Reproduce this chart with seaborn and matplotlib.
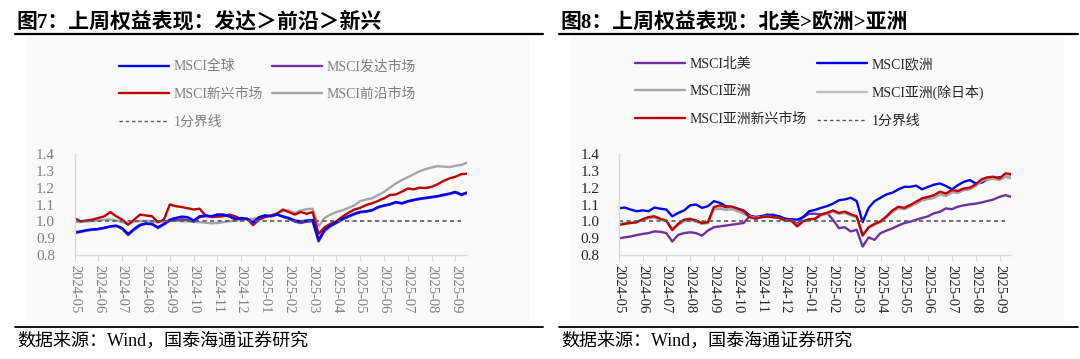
import numpy as np
import pandas as pd
import seaborn as sns
import matplotlib.pyplot as plt
from matplotlib.lines import Line2D
from matplotlib.patches import Rectangle

sns.set_style('white')
plt.rcParams['font.family'] = ['Liberation Serif', 'Noto Sans CJK SC']

# time axis in months since the first tick (0.25 month steps)
months = np.arange(67) * 0.25
month_labels = ['2024-05', '2024-06', '2024-07', '2024-08', '2024-09', '2024-10',
                '2024-11', '2024-12', '2025-01', '2025-02', '2025-03', '2025-04',
                '2025-05', '2025-06', '2025-07', '2025-08', '2025-09']

# ---- figure 7 data ----
msci_world = [0.935, 0.940, 0.948, 0.952, 0.955, 0.962, 0.970, 0.975,
              0.960, 0.925, 0.955, 0.980, 0.988, 0.985, 0.965, 0.985,
              1.010, 1.020, 1.028, 1.025, 1.005, 1.030, 1.035, 1.030,
              1.040, 1.040, 1.030, 1.015, 1.020, 1.015, 0.995, 1.025,
              1.035, 1.030, 1.040, 1.030, 1.020, 1.005, 1.000, 1.005,
              1.008, 0.890, 0.950, 0.975, 0.995, 1.015, 1.030, 1.045,
              1.057, 1.060, 1.067, 1.085, 1.095, 1.102, 1.115, 1.108,
              1.120, 1.128, 1.135, 1.140, 1.145, 1.150, 1.158, 1.165,
              1.175, 1.160, 1.172]
msci_developed = [0.930, 0.937, 0.945, 0.950, 0.953, 0.960, 0.968, 0.972,
                  0.955, 0.918, 0.950, 0.975, 0.985, 0.982, 0.960, 0.980,
                  1.003, 1.008, 1.012, 1.010, 0.998, 1.025, 1.030, 1.028,
                  1.040, 1.038, 1.028, 1.012, 1.018, 1.012, 0.990, 1.022,
                  1.035, 1.030, 1.040, 1.028, 1.015, 0.998, 0.990, 0.998,
                  1.000, 0.880, 0.942, 0.970, 0.990, 1.010, 1.027, 1.042,
                  1.053, 1.057, 1.064, 1.082, 1.092, 1.100, 1.112, 1.105,
                  1.117, 1.125, 1.132, 1.137, 1.142, 1.147, 1.155, 1.162,
                  1.172, 1.155, 1.168]
msci_emerging = [1.018, 1.000, 1.005, 1.010, 1.020, 1.030, 1.055, 1.030,
                 1.010, 0.980, 1.010, 1.040, 1.035, 1.030, 0.995, 1.010,
                 1.100, 1.090, 1.085, 1.078, 1.070, 1.075, 1.035, 1.025,
                 1.028, 1.030, 1.040, 1.030, 1.012, 1.015, 0.978, 1.010,
                 1.025, 1.035, 1.045, 1.070, 1.055, 1.040, 1.055, 1.045,
                 1.055, 0.925, 0.965, 0.985, 1.000, 1.028, 1.050, 1.070,
                 1.080, 1.097, 1.107, 1.121, 1.137, 1.156, 1.160, 1.176,
                 1.195, 1.190, 1.200, 1.198, 1.205, 1.220, 1.240, 1.255,
                 1.265, 1.280, 1.283]
msci_frontier = [0.994, 0.996, 1.000, 1.002, 1.005, 1.010, 1.012, 1.005,
                 0.995, 0.985, 0.998, 1.002, 1.002, 0.998, 0.995, 1.000,
                 1.005, 1.005, 1.000, 1.000, 0.998, 0.995, 0.992, 0.988,
                 0.990, 0.995, 1.000, 1.005, 1.008, 1.012, 1.015, 1.022,
                 1.028, 1.035, 1.048, 1.060, 1.065, 1.050, 1.065, 1.072,
                 1.075, 0.970, 1.020, 1.040, 1.055, 1.065, 1.080, 1.095,
                 1.120, 1.130, 1.137, 1.155, 1.175, 1.200, 1.225, 1.245,
                 1.262, 1.280, 1.298, 1.310, 1.320, 1.328, 1.325, 1.322,
                 1.330, 1.335, 1.350]

# ---- figure 8 data ----
msci_na = [0.899, 0.905, 0.910, 0.918, 0.925, 0.930, 0.940, 0.938,
           0.930, 0.880, 0.920, 0.930, 0.935, 0.930, 0.915, 0.945,
           0.965, 0.970, 0.975, 0.980, 0.985, 0.990, 1.030, 1.025,
           1.030, 1.035, 1.040, 1.025, 1.015, 1.010, 0.985, 1.025,
           1.045, 1.045, 1.040, 1.050, 1.010, 0.960, 0.965, 0.940,
           0.950, 0.850, 0.905, 0.890, 0.930, 0.945, 0.958, 0.975,
           0.990, 0.998, 1.010, 1.020, 1.030, 1.048, 1.057, 1.077,
           1.072, 1.087, 1.095, 1.101, 1.105, 1.112, 1.121, 1.130,
           1.145, 1.156, 1.145]
msci_europe = [1.077, 1.082, 1.070, 1.060, 1.065, 1.060, 1.082, 1.075,
               1.070, 1.030, 1.050, 1.065, 1.095, 1.100, 1.080, 1.090,
               1.120, 1.110, 1.090, 1.085, 1.075, 1.065, 1.035, 1.025,
               1.030, 1.040, 1.035, 1.030, 1.015, 1.012, 1.010, 1.025,
               1.060, 1.068, 1.080, 1.090, 1.105, 1.125, 1.130, 1.140,
               1.120, 0.995, 1.080, 1.120, 1.140, 1.160, 1.170, 1.190,
               1.205, 1.205, 1.212, 1.190, 1.205, 1.218, 1.225, 1.210,
               1.190, 1.215, 1.235, 1.245, 1.225, 1.230, 1.250, 1.255,
               1.262, 1.265, 1.270]
msci_asia = [0.985, 0.990, 0.992, 0.995, 1.008, 1.018, 1.022, 1.010,
             1.000, 0.955, 0.980, 1.000, 1.008, 0.998, 0.985, 0.990,
             1.070, 1.075, 1.068, 1.072, 1.060, 1.045, 1.030, 1.020,
             1.025, 1.028, 1.025, 1.018, 1.005, 1.003, 0.975, 1.000,
             1.012, 1.015, 1.035, 1.045, 1.058, 1.045, 1.050, 1.035,
             1.025, 0.920, 0.960, 0.980, 0.995, 1.022, 1.055, 1.078,
             1.072, 1.088, 1.105, 1.125, 1.132, 1.140, 1.160, 1.150,
             1.172, 1.168, 1.185, 1.190, 1.210, 1.240, 1.250, 1.252,
             1.245, 1.265, 1.255]
msci_asia_ex_jp = [0.982, 0.988, 0.990, 0.993, 1.010, 1.020, 1.026, 1.012,
                   1.002, 0.950, 0.982, 1.005, 1.010, 1.000, 0.987, 0.992,
                   1.078, 1.085, 1.075, 1.080, 1.068, 1.050, 1.028, 1.018,
                   1.024, 1.027, 1.024, 1.018, 1.004, 1.004, 0.972, 1.000,
                   1.012, 1.014, 1.038, 1.048, 1.060, 1.046, 1.052, 1.038,
                   1.027, 0.918, 0.962, 0.982, 0.997, 1.025, 1.058, 1.080,
                   1.075, 1.090, 1.110, 1.130, 1.138, 1.147, 1.167, 1.157,
                   1.178, 1.172, 1.188, 1.193, 1.213, 1.243, 1.255, 1.258,
                   1.248, 1.272, 1.265]
msci_asia_em = [0.978, 0.985, 0.990, 0.995, 1.012, 1.025, 1.030, 1.015,
                1.005, 0.948, 0.985, 1.010, 1.015, 1.005, 0.990, 0.995,
                1.085, 1.095, 1.085, 1.088, 1.075, 1.060, 1.025, 1.015,
                1.025, 1.028, 1.025, 1.020, 1.005, 1.005, 0.970, 1.000,
                1.012, 1.015, 1.040, 1.050, 1.065, 1.050, 1.058, 1.042,
                1.030, 0.915, 0.965, 0.985, 1.000, 1.030, 1.065, 1.087,
                1.080, 1.097, 1.117, 1.137, 1.145, 1.156, 1.176, 1.165,
                1.186, 1.180, 1.195, 1.200, 1.220, 1.250, 1.262, 1.265,
                1.255, 1.285, 1.280]

divider = 1.0

W, H = 1080, 359
fig = plt.figure(figsize=(W / 100, H / 100), dpi=100)


def fx(px):
    return px / W


def fy(py):
    return 1 - py / H


def draw_panel(x0, x1, ax_left, title, series, order, legend_order, text_color,
               legend_xy, colspace):
    # faint background panel
    fig.patches.append(Rectangle((fx(x0 + 11), fy(322)), fx(x1 - x0 - 25), fy(37) - fy(322),
                                 transform=fig.transFigure, facecolor='#fafafa',
                                 edgecolor='none', zorder=-5))
    fig.text(fx(x0 + 2), fy(22), title, fontsize=15, fontweight='bold',
             va='center', ha='left', color='black')
    fig.add_artist(Line2D([fx(x0), fx(x1)], [fy(34), fy(34)], color='black', lw=1.6))
    fig.add_artist(Line2D([fx(x0), fx(x1)], [fy(327), fy(327)], color='black', lw=1.3))
    fig.text(fx(x0 + 2), fy(341), '数据来源：Wind，国泰海通证券研究', fontsize=13,
             va='center', ha='left', color='black')

    ax = fig.add_axes([fx(ax_left), fy(255), fx(16.5 * 23.8), fy(154) - fy(255)])
    ax.set_zorder(2)
    ax.patch.set_alpha(0)
    df = pd.DataFrame({'m': months})
    for name, vals, color in series:
        df[name] = vals
    long = df.melt(id_vars='m', var_name='series', value_name='v')
    palette = {name: color for name, vals, color in series}
    handles = {}
    for name in order:
        sns.lineplot(data=long[long['series'] == name], x='m', y='v', color=palette[name],
                     lw=1.7, ax=ax, legend=False)
        handles[name] = Line2D([], [], color=palette[name], lw=1.7)
    sns.lineplot(x=months[:-1], y=np.full(len(months) - 1, divider), color='#595959',
                 lw=1.2, linestyle=(0, (2.5, 2)), ax=ax)
    handles['1分界线'] = Line2D([], [], color='#595959', lw=1.0, linestyle=(0, (2.5, 2)))

    ax.set_xlim(0, 16.5)
    ax.set_ylim(0.8, 1.4)
    ax.set_yticks([0.8, 0.9, 1.0, 1.1, 1.2, 1.3, 1.4])
    ax.set_yticklabels(['0.8', '0.9', '1.0', '1.1', '1.2', '1.3', '1.4'])
    ax.set_xticks(np.arange(len(month_labels)))
    ax.set_xticklabels(month_labels, rotation=-90)
    ax.set_xlabel('')
    ax.set_ylabel('')
    for s in ['top', 'right']:
        ax.spines[s].set_visible(False)
    for s in ['left', 'bottom']:
        ax.spines[s].set_color('#d9d9d9')
        ax.spines[s].set_linewidth(1.0)
    ax.tick_params(axis='x', length=4, color='#d9d9d9', labelsize=10.5,
                   labelcolor=text_color, pad=3, bottom=True)
    ax.tick_params(axis='y', length=0, labelsize=11, labelcolor=text_color, pad=14)

    leg = ax.legend([handles[n] for n in legend_order], legend_order, ncol=2,
                    loc='upper left', bbox_to_anchor=(fx(legend_xy[0]), fy(legend_xy[1])),
                    bbox_transform=fig.transFigure, frameon=False, fontsize=10,
                    handlelength=3.6, handletextpad=0.35, columnspacing=colspace,
                    labelspacing=1.03, borderaxespad=0, borderpad=0)
    for t in leg.get_texts():
        t.set_color(text_color)
    return ax


left_series = [('MSCI全球', msci_world, '#0000ff'),
               ('MSCI发达市场', msci_developed, '#7030a0'),
               ('MSCI新兴市场', msci_emerging, '#c00000'),
               ('MSCI前沿市场', msci_frontier, '#a5a5a5')]
draw_panel(15, 543, 74.6, '图7：上周权益表现：发达＞前沿＞新兴', left_series,
           ['MSCI前沿市场', 'MSCI新兴市场', 'MSCI发达市场', 'MSCI全球'],
           ['MSCI全球', 'MSCI新兴市场', '1分界线', 'MSCI发达市场', 'MSCI前沿市场'],
           '#7f7f7f', (119, 60), 0.6)

right_series = [('MSCI北美', msci_na, '#7030a0'),
                ('MSCI欧洲', msci_europe, '#0000ff'),
                ('MSCI亚洲', msci_asia, '#a5a5a5'),
                ('MSCI亚洲(除日本)', msci_asia_ex_jp, '#bfbfbf'),
                ('MSCI亚洲新兴市场', msci_asia_em, '#c00000')]
draw_panel(559, 1078, 618.7, '图8：上周权益表现：北美>欧洲>亚洲', right_series,
           ['MSCI北美', 'MSCI欧洲', 'MSCI亚洲(除日本)', 'MSCI亚洲', 'MSCI亚洲新兴市场'],
           ['MSCI北美', 'MSCI亚洲', 'MSCI亚洲新兴市场', 'MSCI欧洲', 'MSCI亚洲(除日本)', '1分界线'],
           '#262626', (635, 58), 0.7)

fig.savefig('out.png', dpi=100)
